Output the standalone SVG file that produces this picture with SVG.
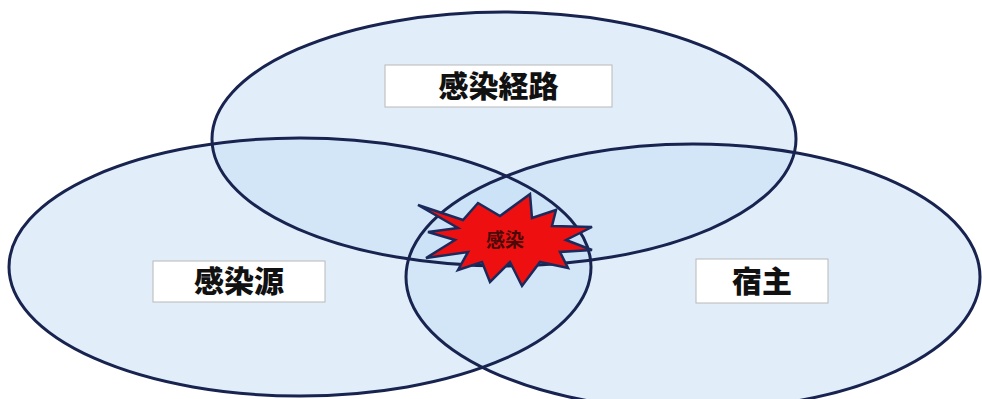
<svg xmlns="http://www.w3.org/2000/svg" width="982" height="399" viewBox="0 0 982 399">
<style>
.ell{fill:#c4ddf6;fill-opacity:0.5;stroke:none}
.out{fill:none;stroke:#18244f;stroke-width:3}
.box{fill:#ffffff;stroke:#b8b8b8;stroke-width:1}
.lbl{font-family:"Noto Sans CJK JP","Noto Sans CJK SC",sans-serif;font-weight:900;font-size:30px;fill:#111;text-anchor:middle}
.star{fill:#ee1010;stroke:#1b2a5c;stroke-width:2.5;stroke-linejoin:miter}
.slbl{font-family:"Noto Sans CJK JP","Noto Sans CJK SC",sans-serif;font-size:19px;font-weight:700;fill:#4a0a0a;text-anchor:middle}
</style>
<rect width="982" height="399" fill="#ffffff"/>
<g id="route">
<ellipse class="ell" cx="504" cy="139" rx="292" ry="127"/>
</g>
<g id="source">
<ellipse class="ell" cx="300" cy="267" rx="291" ry="129"/>
</g>
<g id="host">
<ellipse class="ell" cx="693" cy="277" rx="287" ry="133"/>
</g>
<g id="outlines">
<ellipse class="out" cx="504" cy="139" rx="292" ry="127"/>
<ellipse class="out" cx="300" cy="267" rx="291" ry="129"/>
<ellipse class="out" cx="693" cy="277" rx="287" ry="133"/>
</g>
<g id="route-label">
<rect class="box" x="385" y="65" width="227" height="42"/>
<text class="lbl" x="498.5" y="97">感染経路</text>
</g>
<g id="source-label">
<rect class="box" x="153" y="261" width="172" height="41"/>
<text class="lbl" x="239" y="292">感染源</text>
</g>
<g id="host-label">
<rect class="box" x="696" y="259" width="132" height="44"/>
<text class="lbl" x="762" y="292">宿主</text>
</g>
<g id="infection">
<polygon class="star" points="418,205 463,220 478,203 500,216 530,194 532,218 556,210 552,226 592,227 566,240 592,250 560,252 568,268 540,262 522,286 510,262 490,282 482,262 458,270 468,252 426,258 455,240 428,232 458,228"/>
<text class="slbl" x="505" y="247">感染</text>
</g>
<g id="connectors"></g>
</svg>
